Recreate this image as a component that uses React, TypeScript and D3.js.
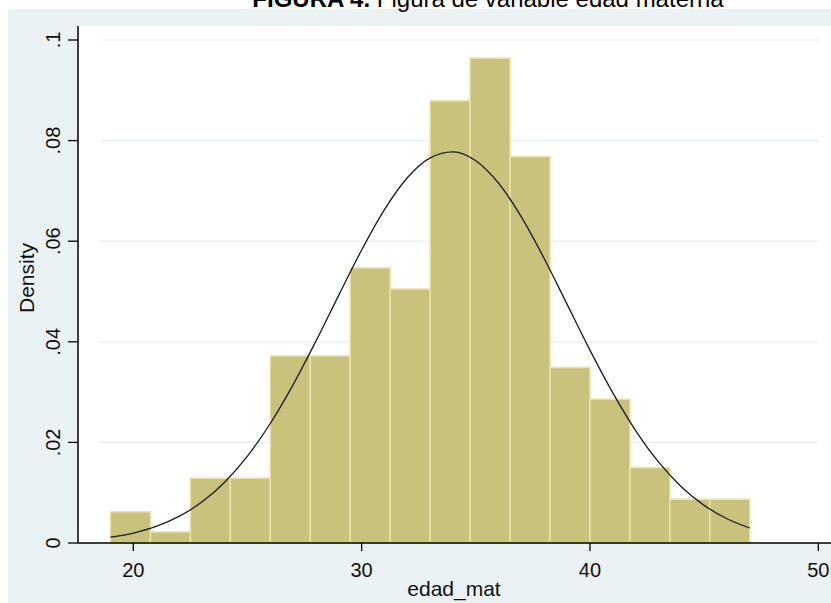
import * as d3 from 'd3';

// histogram of edad_mat, 16 bins from 19 to 47
const binStart = [19, 20.75, 22.5, 24.25, 26, 27.75, 29.5, 31.25, 33, 34.75, 36.5, 38.25, 40, 41.75, 43.5, 45.25];
const binWidth = 1.75;
const density = [0.0062, 0.0022, 0.0129, 0.0129, 0.0372, 0.0372, 0.0547, 0.0505, 0.0879, 0.0964, 0.0768, 0.0349, 0.0286, 0.0150, 0.0087, 0.0087];

// overlaid normal density curve
const curveX = [19, 20, 21, 22, 23, 24, 25, 26, 27, 28, 29, 30, 31, 32, 33, 34, 35, 36, 37, 38, 39, 40, 41, 42, 43, 44, 45, 46, 47];
const curveY = [0.00115, 0.00198, 0.00329, 0.00528, 0.00814, 0.01209, 0.01727, 0.02376, 0.03148, 0.04015, 0.04928, 0.05825,
  0.06628, 0.07261, 0.07658, 0.07776, 0.07601, 0.07152, 0.06479, 0.05651, 0.04744, 0.03835, 0.02985, 0.02236, 0.01613,
  0.01120, 0.00748, 0.00482, 0.00298];

const xTicks = [20, 30, 40, 50];
const yTicks = [0, 0.02, 0.04, 0.06, 0.08, 0.1];
const yTickLabels = ['0', '.02', '.04', '.06', '.08', '.1'];

const width = 831;
const height = 603;

export default function App() {
  const x = d3.scaleLinear().domain([20, 50]).range([133.3, 818.3]);
  const y = d3.scaleLinear().domain([0, 0.1]).range([543, 40]);

  const plotLeft = 78;
  const plotTop = 26;
  const plotBottom = y(0);

  const line = d3.line<number>()
    .x((d, i) => x(curveX[i]))
    .y(d => y(d))
    .curve(d3.curveMonotoneX);

  const font = 'Arial, "Liberation Sans", sans-serif';

  return (
    <svg width={width} height={height} style={{position: 'absolute', left: 0, top: 0, background: '#fff'}}>
      {/* graph region */}
      <rect x={8} y={9} width={width - 8} height={height - 9} fill="#EAF2F3" />
      {/* plot region */}
      <rect x={plotLeft} y={plotTop} width={width - plotLeft} height={plotBottom - plotTop} fill="#fff" />

      {/* title, cut off at the top like the source page */}
      <text x={488} y={7} textAnchor="middle" fontFamily={font} fontSize={24} fill="#000">
        <tspan fontWeight="bold">FIGURA 4.</tspan> Figura de variable edad materna
      </text>

      {/* grid */}
      {yTicks.slice(1).map(t => (
        <line key={t} x1={100} x2={818} y1={y(t)} y2={y(t)} stroke="#E8EEEF" strokeWidth={1.2} />
      ))}

      {/* bars */}
      {binStart.map((b, i) => (
        <rect key={i} x={x(b)} y={y(density[i])} width={x(b + binWidth) - x(b)} height={plotBottom - y(density[i])}
          fill="#C9C27C" stroke="#E9E3A6" strokeWidth={1.5} />
      ))}

      {/* normal curve */}
      <path d={line(curveY) || ''} fill="none" stroke="#1a1a1a" strokeWidth={1.3} />

      {/* y axis */}
      <line x1={plotLeft} x2={plotLeft} y1={y(0.1) - 14} y2={plotBottom} stroke="#000" strokeWidth={1.5} />
      {yTicks.map((t, i) => (
        <g key={t}>
          <line x1={plotLeft - 10} x2={plotLeft} y1={y(t)} y2={y(t)} stroke="#000" strokeWidth={1.3} />
          <text transform={`translate(60,${y(t)}) rotate(-90)`} textAnchor="middle" fontFamily={font} fontSize={20} fill="#111">
            {yTickLabels[i]}
          </text>
        </g>
      ))}
      <text transform={`translate(34,278) rotate(-90)`} textAnchor="middle" fontFamily={font} fontSize={21} fill="#111">
        Density
      </text>

      {/* x axis */}
      <line x1={plotLeft} x2={width} y1={plotBottom} y2={plotBottom} stroke="#000" strokeWidth={1.5} />
      {xTicks.map(t => (
        <g key={t}>
          <line x1={x(t)} x2={x(t)} y1={plotBottom} y2={plotBottom + 8} stroke="#000" strokeWidth={1.3} />
          <text x={x(t)} y={577} textAnchor="middle" fontFamily={font} fontSize={20} fill="#111">{t}</text>
        </g>
      ))}
      <text x={454} y={596} textAnchor="middle" fontFamily={font} fontSize={21} fill="#111">edad_mat</text>
    </svg>
  );
}
